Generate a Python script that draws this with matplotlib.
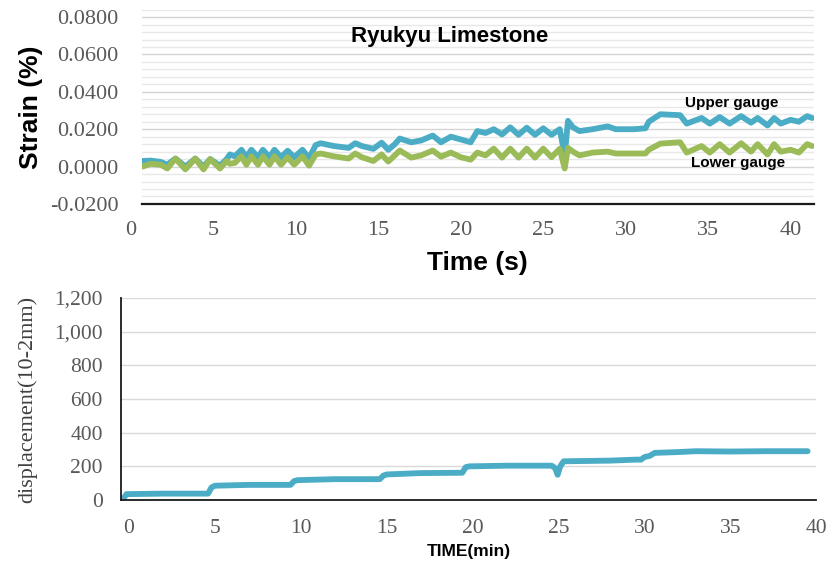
import matplotlib
matplotlib.use("Agg")
import matplotlib.pyplot as plt
from matplotlib.ticker import MultipleLocator, FuncFormatter

plt.rcParams['axes.unicode_minus'] = False

# strain gauge readings, Ryukyu limestone
time_s = [0.7, 1.2, 1.8, 2.2, 2.7, 3.3, 3.9, 4.4, 4.8, 5.4, 5.8, 6.0, 6.3, 6.7, 7.0,
          7.3, 7.7, 8.0, 8.4, 8.7, 9.1, 9.5, 9.9, 10.4, 10.8, 11.2, 11.5, 12.3, 13.2,
          13.6, 14.0, 14.7, 15.2, 15.6, 16.0, 16.3, 17.0, 17.6, 18.3, 18.8, 19.4,
          20.0, 20.6, 21.0, 21.5, 22.0, 22.5, 23.0, 23.5, 24.0, 24.5, 25.0, 25.5,
          26.0, 26.3, 26.5, 26.8, 27.2, 28.0, 28.9, 29.4, 30.5, 31.2, 31.4, 32.1,
          33.3, 33.7, 34.6, 35.1, 35.7, 36.3, 37.0, 37.6, 38.0, 38.6, 39.0, 39.4,
          40.0, 40.5, 41.0, 41.3]
upper_gauge = [0.0030, 0.0032, 0.0025, 0.0010, 0.0043, 0.0000, 0.0043, 0.0000, 0.0040,
               0.0005, 0.0040, 0.0065, 0.0055, 0.0090, 0.0050, 0.0090, 0.0050, 0.0090,
               0.0050, 0.0090, 0.0050, 0.0085, 0.0050, 0.0090, 0.0045, 0.0115, 0.0125,
               0.0110, 0.0100, 0.0125, 0.0110, 0.0095, 0.0128, 0.0090, 0.0120, 0.0150,
               0.0130, 0.0140, 0.0166, 0.0130, 0.0160, 0.0145, 0.0130, 0.0190, 0.0180,
               0.0200, 0.0172, 0.0210, 0.0170, 0.0208, 0.0170, 0.0205, 0.0170, 0.0200,
               0.0060, 0.0245, 0.0210, 0.0190, 0.0200, 0.0215, 0.0200, 0.0200, 0.0205,
               0.0240, 0.0280, 0.0275, 0.0230, 0.0260, 0.0230, 0.0265, 0.0230, 0.0270,
               0.0235, 0.0260, 0.0220, 0.0260, 0.0230, 0.0250, 0.0240, 0.0270, 0.0260]
lower_gauge = [0.0000, 0.0015, 0.0010, -0.0010, 0.0043, -0.0015, 0.0043, -0.0015, 0.0040,
               -0.0010, 0.0030, 0.0015, 0.0020, 0.0055, 0.0010, 0.0055, 0.0010, 0.0055,
               0.0010, 0.0055, 0.0010, 0.0050, 0.0010, 0.0055, 0.0005, 0.0065, 0.0070,
               0.0055, 0.0043, 0.0070, 0.0050, 0.0030, 0.0065, 0.0027, 0.0060, 0.0086,
               0.0048, 0.0060, 0.0086, 0.0053, 0.0075, 0.0050, 0.0037, 0.0075, 0.0060,
               0.0096, 0.0048, 0.0096, 0.0048, 0.0096, 0.0048, 0.0096, 0.0050, 0.0095,
               -0.0010, 0.0100, 0.0080, 0.0060, 0.0075, 0.0080, 0.0070, 0.0070, 0.0070,
               0.0090, 0.0123, 0.0130, 0.0075, 0.0110, 0.0075, 0.0120, 0.0075, 0.0125,
               0.0080, 0.0120, 0.0065, 0.0120, 0.0080, 0.0090, 0.0075, 0.0120, 0.0110]

# displacement record
time_min = [-0.35, -0.15, 2.0, 4.6, 4.8, 5.0, 7.0, 9.4, 9.6, 9.8, 12.0, 14.6, 14.8, 15.0,
            17.0, 19.4, 19.6, 19.8, 22.0, 24.6, 24.8, 24.95, 25.1, 25.3, 28.0, 29.5, 29.8,
            30.0, 30.3, 30.6, 32.0, 33.0, 35.0, 37.0, 39.5]
displacement = [5, 35, 38, 38, 75, 85, 90, 90, 112, 118, 124, 124, 145, 152, 160, 162, 195,
                200, 204, 204, 190, 150, 200, 230, 234, 240, 240, 255, 262, 280, 285, 290,
                288, 290, 290]

teal = "#4bacc6"
green = "#9bbb59"
tick_grey = "#595959"
serif = "Liberation Serif"
sans = "Liberation Sans"

fig = plt.figure(figsize=(8.32, 5.65), dpi=100)

# ---- strain ----
ax1 = fig.add_axes([0.1707, 0.639, 0.8073, 0.344])
ax1.plot(time_s, upper_gauge, color=teal, lw=4.2, solid_joinstyle="round",
         solid_capstyle="round", zorder=3)
ax1.plot(time_s, lower_gauge, color=green, lw=4.2, solid_joinstyle="round",
         solid_capstyle="round", zorder=4)
ax1.set_xlim(0.67, 41.4)
ax1.set_ylim(-0.02, 0.084)
ax1.yaxis.set_major_locator(MultipleLocator(0.02))
ax1.yaxis.set_minor_locator(MultipleLocator(0.004))
ax1.yaxis.set_major_formatter(FuncFormatter(lambda v, p: "%.4f" % v))
ax1.set_xticks(range(5, 45, 5))
ax1.grid(axis="y", which="major", color="#d4d4d4", lw=1.0)
ax1.grid(axis="y", which="minor", color="#e8e8e8", lw=1.0)
ax1.set_axisbelow(True)
for s in ["left", "right", "top"]:
    ax1.spines[s].set_visible(False)
ax1.spines["bottom"].set_color("#1a1a1a")
ax1.spines["bottom"].set_linewidth(1.6)
ax1.tick_params(which="both", length=0)
ax1.tick_params(axis="y", pad=17)
ax1.tick_params(axis="x", pad=12)
for lab in ax1.get_xticklabels() + ax1.get_yticklabels():
    lab.set_fontfamily(serif)
    lab.set_fontsize(16)
    lab.set_color(tick_grey)
# the 0 label sits left of where the data begins, so it goes in by hand
zero_tr, zero_va, zero_ha = ax1.get_xaxis_text1_transform(12)
ax1.text(0, 0, "0", transform=zero_tr, va=zero_va, ha=zero_ha, fontfamily=serif,
         fontsize=16, color=tick_grey, clip_on=False)
ax1.set_ylabel("Strain (%)", fontfamily=sans, fontweight="bold", fontsize=19, labelpad=5)
ax1.set_xlabel("Time (s)", fontfamily=sans, fontweight="bold", fontsize=19, labelpad=8)
ax1.text(19.3, 0.0697, "Ryukyu Limestone", fontfamily=sans, fontweight="bold",
         fontsize=16, ha="center", va="center")
ax1.text(36.4, 0.0340, "Upper gauge", fontfamily=sans, fontweight="bold",
         fontsize=11, ha="center", va="center")
ax1.text(36.8, 0.0020, "Lower gauge", fontfamily=sans, fontweight="bold",
         fontsize=11, ha="center", va="center")

# ---- displacement ----
ax2 = fig.add_axes([0.1454, 0.115, 0.8356, 0.3576])
ax2.plot(time_min, displacement, color=teal, lw=4.2, solid_joinstyle="round",
         solid_capstyle="round")
ax2.set_xlim(-0.47, 40.0)
ax2.set_ylim(0, 1200)
ax2.set_xticks(range(0, 45, 5))
ax2.set_yticks(range(0, 1400, 200))
ax2.yaxis.set_major_formatter(FuncFormatter(lambda v, p: "{:,.0f}".format(v)))
ax2.grid(axis="y", color="#d9d9d9", lw=1.0)
ax2.set_axisbelow(True)
for s in ["right", "top"]:
    ax2.spines[s].set_visible(False)
for s in ["left", "bottom"]:
    ax2.spines[s].set_color("#1a1a1a")
    ax2.spines[s].set_linewidth(1.3)
ax2.tick_params(length=0)
ax2.tick_params(axis="y", pad=13)
ax2.tick_params(axis="x", pad=14)
for lab in ax2.get_xticklabels() + ax2.get_yticklabels():
    lab.set_fontfamily(serif)
    lab.set_fontsize(15.5)
    lab.set_color(tick_grey)
ax2.set_ylabel("displacement(10-2mm)", fontfamily=serif, fontsize=16, color="#404040",
               labelpad=12)
ax2.set_xlabel("TIME(min)", fontfamily=sans, fontweight="bold", fontsize=12.5, labelpad=4)

fig.savefig("out.png", dpi=100)
